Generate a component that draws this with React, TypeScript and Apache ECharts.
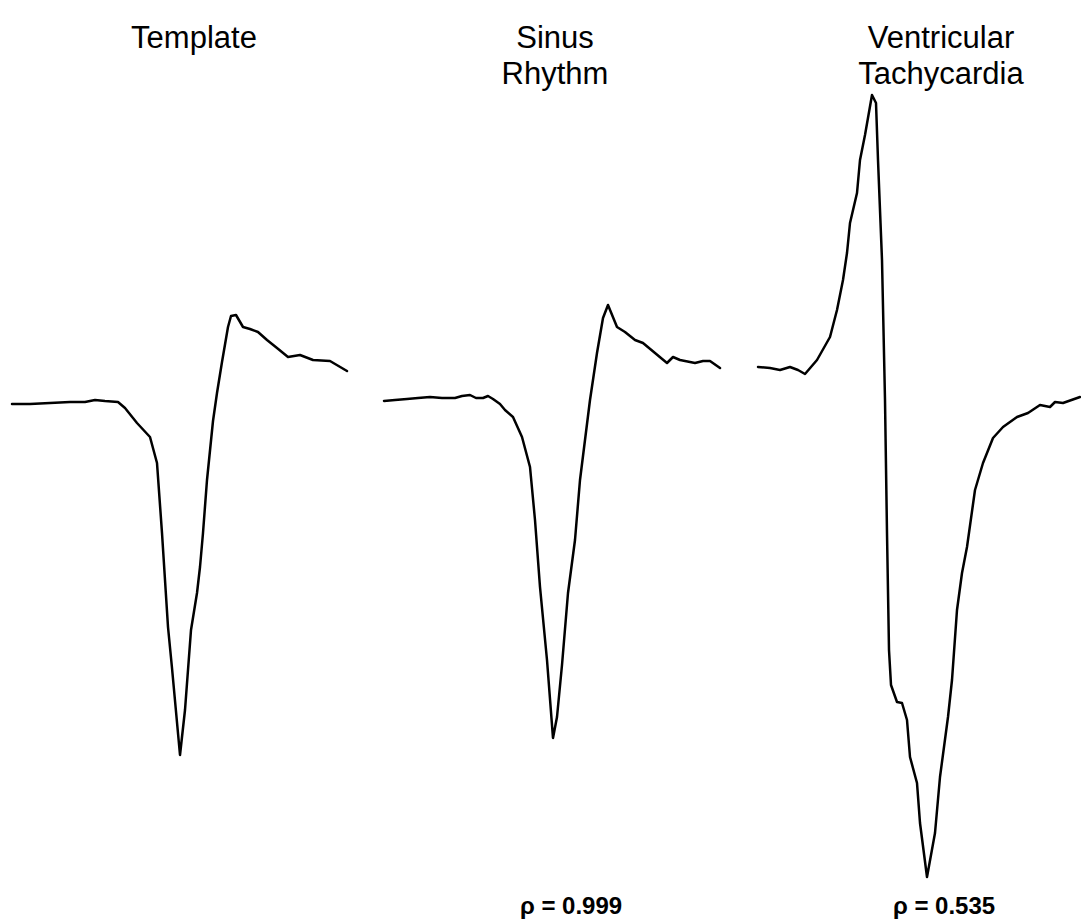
import React, { useEffect, useRef } from "react";
import * as echarts from "echarts";

// Time (ms from start of each trace) and amplitude (mV)
const templateT = [0, 18, 38, 58, 73, 83, 93, 106, 113, 125, 138, 145, 150, 156, 160, 168, 173, 179, 185, 188, 191, 195, 201, 205, 210, 216, 219, 224, 231, 238, 246, 255, 265, 276, 288, 301, 318, 335];
const templateV = [-0.04, -0.04, -0.03, -0.02, -0.02, 0.0, -0.01, -0.02, -0.08, -0.23, -0.37, -0.63, -1.33, -2.27, -2.68, -3.55, -3.1, -2.3, -1.93, -1.67, -1.33, -0.8, -0.21, 0.07, 0.38, 0.73, 0.84, 0.85, 0.73, 0.71, 0.68, 0.6, 0.52, 0.43, 0.45, 0.4, 0.39, 0.29];

const sinusT = [0, 11, 23, 34, 46, 58, 71, 78, 86, 92, 99, 104, 109, 116, 121, 129, 138, 146, 151, 156, 163, 169, 173, 178, 184, 191, 196, 201, 206, 213, 219, 224, 233, 241, 251, 259, 271, 283, 289, 296, 311, 319, 326, 336];
const sinusV = [-0.01, 0.0, 0.01, 0.02, 0.03, 0.02, 0.02, 0.04, 0.05, 0.02, 0.02, 0.04, 0.01, -0.04, -0.1, -0.17, -0.37, -0.67, -1.2, -1.87, -2.6, -3.38, -3.17, -2.65, -1.93, -1.4, -0.8, -0.4, 0.0, 0.47, 0.82, 0.95, 0.73, 0.68, 0.6, 0.57, 0.47, 0.37, 0.43, 0.4, 0.37, 0.39, 0.39, 0.32];

const vtT = [0, 12, 22, 32, 40, 47, 59, 72, 79, 85, 89, 92, 99, 102, 107, 114, 118, 120, 124, 127, 129, 131, 133, 139, 144, 149, 152, 159, 162, 169, 177, 182, 190, 194, 199, 204, 209, 217, 225, 235, 245, 259, 270, 282, 292, 297, 305, 322];
const vtV = [0.33, 0.32, 0.3, 0.33, 0.3, 0.26, 0.4, 0.63, 0.9, 1.2, 1.47, 1.77, 2.07, 2.4, 2.65, 3.05, 2.97, 2.4, 1.4, 0.0, -1.33, -2.5, -2.85, -3.02, -3.03, -3.2, -3.57, -3.83, -4.23, -4.77, -4.33, -3.77, -3.17, -2.8, -2.1, -1.73, -1.47, -0.9, -0.63, -0.38, -0.27, -0.17, -0.13, -0.05, -0.07, -0.02, -0.03, 0.03];

const panelTitles = ["Template", "Sinus\nRhythm", "Ventricular\nTachycardia"];
const correlations = ["ρ = 0.999", "ρ = 0.535"];

const zip = (t: number[], v: number[]) => t.map((x, i) => [x, v[i]]);

export default function App() {
  const ref = useRef<HTMLDivElement>(null);
  useEffect(() => {
    if (!ref.current) return;
    const chart = echarts.init(ref.current, null, { renderer: "svg" });
    const grids = [
      { left: 12, width: 336 },
      { left: 384, width: 336 },
      { left: 758, width: 323 },
    ];
    const xMax = [336, 336, 323];
    const datasets = [zip(templateT, templateV), zip(sinusT, sinusV), zip(vtT, vtV)];
    const titleFont = {
      fontFamily: "Liberation Sans, Arial, sans-serif",
      fontSize: 31,
      fontWeight: "normal" as const,
      color: "#000",
      lineHeight: 36,
    };
    const rhoFont = {
      fontFamily: "Liberation Sans, Arial, sans-serif",
      fontSize: 24,
      fontWeight: "bold" as const,
      color: "#000",
    };
    chart.setOption({
      animation: false,
      backgroundColor: "#fff",
      title: [
        { text: panelTitles[0], left: 189, top: 14, textAlign: "center", textStyle: titleFont },
        { text: panelTitles[1], left: 550, top: 14, textAlign: "center", textStyle: titleFont },
        { text: panelTitles[2], left: 936, top: 14, textAlign: "center", textStyle: titleFont },
        { text: correlations[0], left: 566, top: 888, textAlign: "center", textStyle: rhoFont },
        { text: correlations[1], left: 939, top: 888, textAlign: "center", textStyle: rhoFont },
      ],
      grid: grids.map((g) => ({ left: g.left, width: g.width, top: 0, height: 919 })),
      xAxis: grids.map((_, i) => ({ type: "value", gridIndex: i, min: 0, max: xMax[i], show: false })),
      yAxis: grids.map((_, i) => ({ type: "value", gridIndex: i, min: -5.19, max: 4.0, show: false })),
      series: datasets.map((d, i) => ({
        type: "line",
        xAxisIndex: i,
        yAxisIndex: i,
        data: d,
        symbol: "none",
        smooth: false,
        lineStyle: { color: "#000", width: 2.5, join: "round", cap: "round" },
      })),
    });
    return () => chart.dispose();
  }, []);
  return <div ref={ref} style={{ position: "fixed", left: 0, top: 0, width: 1081, height: 919 }} />;
}
